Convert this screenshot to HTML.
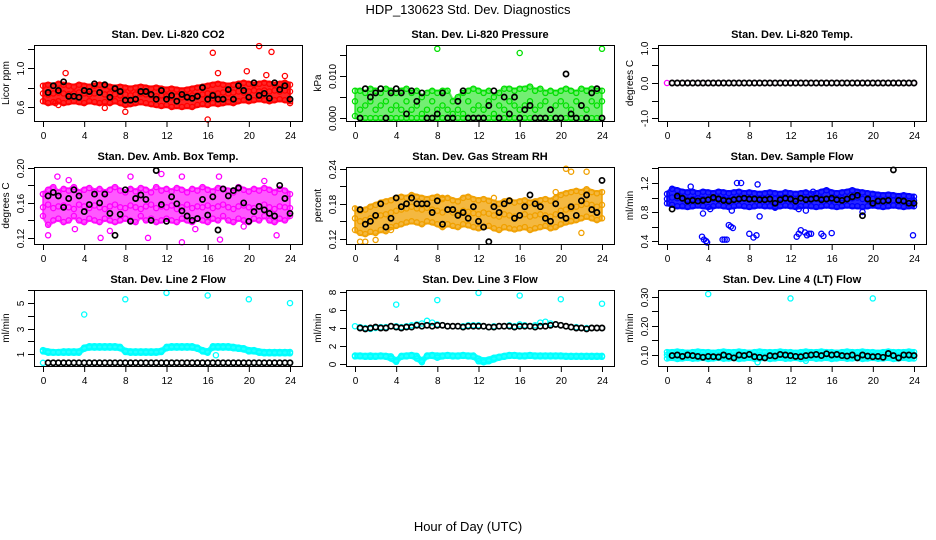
<!DOCTYPE html>
<html><head><meta charset="utf-8"><style>
html,body{margin:0;padding:0;background:#fff;}
svg{display:block;font-family:"Liberation Sans",Arial,sans-serif;}
</style></head><body>
<svg id="chart" width="936" height="540" viewBox="0 0 936 540" xmlns="http://www.w3.org/2000/svg">
<text x="468" y="14" text-anchor="middle" font-size="13">HDP_130623  Std. Dev. Diagnostics</text>
<text x="468" y="531" text-anchor="middle" font-size="13">Hour of Day (UTC)</text>
</svg>
<script>
// ---------- data ----------
const hours = [0,0.5,1,1.5,2,2.5,3,3.5,4,4.5,5,5.5,6,6.5,7,7.5,8,8.5,9,9.5,10,10.5,11,11.5,12,12.5,13,13.5,14,14.5,15,15.5,16,16.5,17,17.5,18,18.5,19,19.5,20,20.5,21,21.5,22,22.5,23,23.5,24];
const blackHours = [0.5,1,1.5,2,2.5,3,3.5,4,4.5,5,5.5,6,6.5,7,7.5,8,8.5,9,9.5,10,10.5,11,11.5,12,12.5,13,13.5,14,14.5,15,15.5,16,16.5,17,17.5,18,18.5,19,19.5,20,20.5,21,21.5,22,22.5,23,23.5,24];

// CO2
const co2Lo  = [0.66,0.64,0.65,0.66,0.64,0.65,0.66,0.65,0.64,0.66,0.65,0.64,0.65,0.64,0.66,0.64,0.62,0.63,0.64,0.65,0.64,0.63,0.62,0.61,0.62,0.60,0.61,0.60,0.61,0.60,0.62,0.63,0.62,0.64,0.63,0.64,0.65,0.64,0.66,0.67,0.66,0.67,0.68,0.67,0.66,0.67,0.68,0.67,0.66];
const co2Mid = [0.74,0.73,0.74,0.75,0.74,0.73,0.74,0.75,0.74,0.73,0.74,0.75,0.73,0.74,0.73,0.72,0.73,0.72,0.73,0.74,0.73,0.72,0.71,0.72,0.71,0.70,0.71,0.70,0.71,0.72,0.72,0.73,0.74,0.73,0.74,0.75,0.74,0.75,0.76,0.75,0.76,0.77,0.76,0.77,0.76,0.77,0.76,0.77,0.76];
const co2Hi  = [0.82,0.83,0.82,0.84,0.83,0.82,0.81,0.83,0.82,0.81,0.82,0.83,0.82,0.81,0.80,0.81,0.80,0.79,0.80,0.81,0.80,0.79,0.80,0.79,0.78,0.79,0.78,0.77,0.78,0.79,0.80,0.81,0.82,0.83,0.84,0.83,0.82,0.83,0.84,0.85,0.84,0.83,0.84,0.85,0.84,0.83,0.84,0.85,0.83];
const co2OutX = [2.2,16.5,17,16,21,22.2,19.8,8,6,1.5,21.7,23.5,1.2,24];
const co2OutY = [0.95,1.16,0.95,0.47,1.23,1.17,0.97,0.55,0.59,0.62,0.93,0.92,0.64,0.64];
const co2Black = [0.75,0.82,0.77,0.86,0.71,0.71,0.70,0.77,0.76,0.84,0.75,0.83,0.70,0.79,0.76,0.67,0.67,0.68,0.76,0.76,0.73,0.68,0.77,0.68,0.72,0.66,0.73,0.70,0.69,0.71,0.80,0.68,0.72,0.68,0.68,0.78,0.68,0.82,0.77,0.70,0.85,0.72,0.74,0.69,0.85,0.78,0.82,0.68];

// Pressure
const presLo  = [0.0005,0,0,0,0,0,0,0,0,0,0,0,0,0,0,0,0,0,0,0,0,0,0,0,0,0,0,0,0,0,0,0,0,0,0,0,0,0,0,0,0,0,0,0,0,0,0,0,0];
const presMid = [0.004,0.002,0.003,0.004,0.002,0.003,0.004,0.002,0.003,0.002,0.004,0.002,0.003,0.001,0.002,0.004,0.002,0.003,0.002,0.001,0.002,0.001,0.004,0.002,0.003,0.002,0.004,0.001,0.003,0.002,0.004,0.003,0.002,0.003,0.004,0.002,0.003,0.004,0.002,0.003,0.004,0.003,0.002,0.004,0.003,0.002,0.004,0.003,0.004];
const presHi  = [0.0065,0.0065,0.006,0.007,0.0065,0.006,0.007,0.0065,0.006,0.0065,0.007,0.006,0.0065,0.005,0.006,0.0065,0.006,0.0065,0.0065,0.004,0.005,0.006,0.0065,0.007,0.0065,0.006,0.0065,0.005,0.006,0.007,0.007,0.0065,0.007,0.007,0.0075,0.0065,0.007,0.006,0.0065,0.006,0.0065,0.007,0.0065,0.006,0.007,0.0065,0.007,0.0065,0.0065];
const presOutX = [8,16,24];
const presOutY = [0.0165,0.0155,0.0165];
const presBlack = [0,0.007,0.005,0.006,0.007,0,0.006,0.007,0.006,0.001,0.0065,0.004,0.006,0,0,0.001,0.006,0,0,0.004,0.0065,0,0,0,0,0.003,0.0065,0,0.005,0.001,0.005,0,0.002,0.003,0,0,0,0.002,0,0,0.0105,0.001,0,0.003,0,0.006,0.007,0];

// Li-820 Temp
const tempVals = [0,0,0,0,0,0,0,0,0,0,0,0,0,0,0,0,0,0,0,0,0,0,0,0,0,0,0,0,0,0,0,0,0,0,0,0,0,0,0,0,0,0,0,0,0,0,0,0,0];
const tempBlack = [0,0,0,0,0,0,0,0,0,0,0,0,0,0,0,0,0,0,0,0,0,0,0,0,0,0,0,0,0,0,0,0,0,0,0,0,0,0,0,0,0,0,0,0,0,0,0,0];

// Amb box temp
const ambLo  = [0.145,0.135,0.14,0.142,0.138,0.14,0.145,0.14,0.138,0.142,0.14,0.138,0.142,0.14,0.138,0.14,0.142,0.14,0.138,0.145,0.14,0.142,0.138,0.14,0.142,0.14,0.138,0.142,0.14,0.138,0.142,0.14,0.138,0.142,0.14,0.145,0.14,0.138,0.142,0.14,0.138,0.142,0.14,0.145,0.14,0.138,0.142,0.14,0.145];
const ambMid = [0.155,0.158,0.154,0.156,0.157,0.155,0.153,0.158,0.156,0.154,0.157,0.155,0.153,0.156,0.158,0.155,0.154,0.157,0.155,0.153,0.156,0.158,0.154,0.156,0.155,0.157,0.153,0.155,0.158,0.154,0.156,0.155,0.157,0.154,0.156,0.158,0.155,0.153,0.156,0.157,0.155,0.154,0.156,0.158,0.155,0.153,0.156,0.155,0.154];
const ambHi  = [0.17,0.175,0.178,0.172,0.176,0.174,0.178,0.172,0.175,0.177,0.173,0.176,0.172,0.175,0.178,0.174,0.172,0.176,0.173,0.177,0.175,0.172,0.178,0.174,0.176,0.173,0.177,0.175,0.172,0.176,0.174,0.178,0.175,0.173,0.177,0.176,0.174,0.172,0.178,0.175,0.173,0.176,0.174,0.177,0.175,0.172,0.176,0.174,0.17];
const ambOutX = [0,0.5,1.4,5.6,8.5,10.2,11.5,13.5,13.5,17.2,17.1,22.7,3.1,14.8,2.5,6.5,19.5,21.5];
const ambOutY = [0.17,0.123,0.19,0.12,0.19,0.12,0.193,0.19,0.115,0.118,0.19,0.123,0.13,0.13,0.186,0.128,0.133,0.185];
const ambBlack = [0.168,0.172,0.168,0.155,0.165,0.175,0.168,0.150,0.158,0.170,0.160,0.170,0.148,0.123,0.147,0.175,0.139,0.165,0.169,0.164,0.140,0.197,0.158,0.139,0.167,0.159,0.151,0.145,0.140,0.142,0.164,0.146,0.167,0.129,0.176,0.168,0.174,0.177,0.160,0.139,0.150,0.156,0.152,0.148,0.145,0.180,0.165,0.148];

// Gas stream RH
const rhLo  = [0.135,0.13,0.128,0.132,0.13,0.135,0.133,0.14,0.142,0.145,0.148,0.15,0.148,0.145,0.15,0.148,0.145,0.14,0.145,0.142,0.14,0.145,0.143,0.14,0.138,0.14,0.142,0.138,0.135,0.14,0.138,0.136,0.138,0.14,0.135,0.138,0.14,0.142,0.138,0.14,0.145,0.148,0.15,0.152,0.155,0.158,0.155,0.152,0.155];
const rhMid = [0.155,0.15,0.152,0.155,0.158,0.16,0.162,0.165,0.168,0.17,0.172,0.175,0.172,0.17,0.173,0.17,0.168,0.165,0.17,0.165,0.163,0.168,0.166,0.164,0.162,0.165,0.163,0.16,0.158,0.162,0.16,0.158,0.16,0.162,0.158,0.16,0.162,0.16,0.158,0.162,0.168,0.17,0.172,0.175,0.178,0.18,0.178,0.175,0.178];
const rhHi  = [0.172,0.168,0.17,0.175,0.178,0.182,0.184,0.186,0.19,0.192,0.19,0.195,0.192,0.19,0.188,0.19,0.192,0.188,0.19,0.186,0.184,0.19,0.192,0.188,0.186,0.188,0.185,0.182,0.18,0.184,0.186,0.182,0.184,0.186,0.182,0.184,0.186,0.188,0.185,0.19,0.195,0.198,0.2,0.202,0.2,0.205,0.2,0.198,0.2];
const rhOutX = [0.5,1,2,20.5,21,22.5,22,19.5,13.5,3.5,8.5];
const rhOutY = [0.115,0.115,0.118,0.24,0.235,0.235,0.13,0.2,0.19,0.135,0.19];
const rhBlack = [0.17,0.145,0.15,0.16,0.18,0.14,0.155,0.19,0.175,0.18,0.19,0.18,0.18,0.18,0.165,0.185,0.145,0.17,0.17,0.16,0.165,0.155,0.175,0.15,0.14,0.115,0.175,0.165,0.18,0.185,0.155,0.16,0.175,0.195,0.18,0.175,0.155,0.15,0.18,0.16,0.155,0.175,0.16,0.185,0.195,0.17,0.165,0.22];

// Sample flow
const flowLo  = [0.92,0.9,0.88,0.88,0.87,0.88,0.89,0.88,0.87,0.88,0.89,0.88,0.87,0.88,0.89,0.88,0.87,0.88,0.89,0.88,0.88,0.87,0.88,0.89,0.88,0.87,0.88,0.89,0.88,0.87,0.88,0.89,0.88,0.87,0.88,0.89,0.88,0.88,0.87,0.88,0.89,0.88,0.87,0.88,0.89,0.88,0.87,0.88,0.88];
const flowMid = [0.98,1.0,0.99,0.98,0.97,0.98,0.99,0.98,0.97,0.98,0.99,0.98,0.97,0.98,0.99,0.98,0.97,0.98,0.99,0.98,0.97,0.98,0.99,0.98,0.97,0.98,0.99,0.98,0.97,0.98,0.99,0.98,0.97,0.98,0.99,0.98,0.99,1.0,0.98,0.97,0.98,0.97,0.96,0.97,0.96,0.97,0.96,0.95,0.96];
const flowHi  = [1.05,1.12,1.1,1.08,1.07,1.08,1.06,1.08,1.07,1.06,1.08,1.07,1.06,1.07,1.08,1.06,1.07,1.06,1.05,1.06,1.07,1.06,1.05,1.07,1.06,1.05,1.06,1.07,1.05,1.06,1.08,1.1,1.07,1.06,1.07,1.08,1.1,1.08,1.07,1.06,1.05,1.04,1.03,1.04,1.03,1.02,1.03,1.02,1.01];
const flowOutX = [3.4,3.6,3.8,3.9,5.4,5.6,5.8,6.0,6.2,6.4,8,8.4,8.7,9,12.6,12.8,13,13.4,13.6,13.8,14,15,15.2,16,23.9,3.5,4.2,6.3,6.8,7.2,8.8,10.5,12.8,13.5,19,2.3,14.2];
const flowOutY = [0.46,0.42,0.4,0.38,0.42,0.42,0.42,0.62,0.6,0.58,0.5,0.45,0.48,0.74,0.46,0.5,0.55,0.52,0.48,0.5,0.5,0.5,0.47,0.51,0.48,0.78,0.84,0.82,1.2,1.2,1.18,0.86,0.84,0.82,0.8,1.15,1.08];
const flowBlack = [0.84,1.02,0.99,0.95,0.96,0.95,0.96,0.97,1.0,0.98,0.96,0.95,0.97,0.98,0.99,0.98,0.98,0.97,0.97,0.98,0.92,0.97,0.99,0.98,0.95,0.99,0.97,0.98,0.99,0.97,0.98,0.99,0.97,0.96,0.98,1.01,1.03,0.75,0.98,0.92,0.95,0.95,0.96,1.38,0.96,0.95,0.92,0.92];

// Line 2 flow
const l2Hi  = [1.3,1.2,1.15,1.15,1.2,1.2,1.2,1.2,1.5,1.6,1.6,1.6,1.6,1.6,1.6,1.55,1.25,1.2,1.2,1.2,1.2,1.2,1.2,1.25,1.55,1.6,1.6,1.6,1.6,1.6,1.5,1.3,1.2,1.6,1.6,1.6,1.6,1.55,1.5,1.45,1.3,1.3,1.2,1.15,1.15,1.15,1.15,1.15,1.15];
const l2Mid = [1.2,1.1,1.1,1.1,1.1,1.1,1.1,1.1,1.4,1.5,1.5,1.5,1.5,1.5,1.5,1.45,1.15,1.1,1.1,1.1,1.1,1.1,1.1,1.15,1.45,1.5,1.5,1.5,1.5,1.5,1.4,1.2,1.1,1.5,1.5,1.5,1.5,1.45,1.4,1.35,1.2,1.2,1.1,1.05,1.05,1.05,1.05,1.05,1.05];
const l2Lo  = [0.3,0.3,0.3,0.3,0.3,0.3,0.3,0.3,0.3,0.3,0.3,0.3,0.3,0.3,0.3,0.3,0.3,0.3,0.3,0.3,0.3,0.3,0.3,0.3,0.3,0.3,0.3,0.3,0.3,0.3,0.3,0.3,0.3,0.3,0.3,0.3,0.3,0.3,0.3,0.3,0.3,0.3,0.3,0.3,0.3,0.3,0.3,0.3,0.3];
const l2OutX = [4,8,12,16,20,24,16.8];
const l2OutY = [4.1,5.3,5.8,5.6,5.3,5.0,0.9];
const l2Black = [0.3,0.3,0.3,0.3,0.3,0.3,0.3,0.3,0.3,0.3,0.3,0.3,0.3,0.3,0.3,0.3,0.3,0.3,0.3,0.3,0.3,0.3,0.3,0.3,0.3,0.3,0.3,0.3,0.3,0.3,0.3,0.3,0.3,0.3,0.3,0.3,0.3,0.3,0.3,0.3,0.3,0.3,0.3,0.3,0.3,0.3,0.3,0.3];

// Line 3 flow
const l3Hi  = [4.2,4.1,4.0,3.9,4.0,4.1,4.1,4.2,4.2,4.1,4.2,4.3,4.4,4.5,4.8,4.6,4.4,4.3,4.2,4.2,4.2,4.2,4.3,4.3,4.3,4.2,4.1,4.2,4.2,4.2,4.3,4.2,4.4,4.3,4.2,4.3,4.6,4.7,4.5,4.4,4.3,4.2,4.1,4.1,4.0,4.0,4.0,4.0,4.0];
const l3Mid = [0.95,0.95,0.9,0.95,0.9,0.95,0.9,0.85,0.4,0.9,0.95,1.0,0.9,0.4,0.95,1.0,0.95,0.95,1.0,0.95,0.95,1.0,0.95,0.95,0.6,0.4,0.5,0.7,0.8,0.9,1.0,1.0,0.95,0.95,1.0,0.95,0.95,0.95,0.95,0.95,0.95,0.9,0.9,0.9,0.9,0.9,0.9,0.9,0.9];
const l3Lo  = [0.85,0.85,0.8,0.8,0.8,0.85,0.8,0.6,0.25,0.8,0.85,0.9,0.6,0.2,0.85,0.9,0.7,0.85,0.9,0.85,0.85,0.9,0.85,0.8,0.3,0.2,0.3,0.5,0.7,0.8,0.9,0.9,0.85,0.85,0.9,0.85,0.85,0.85,0.85,0.85,0.85,0.8,0.8,0.8,0.8,0.8,0.8,0.8,0.8];
const l3OutX = [4,8,12,16,20,24];
const l3OutY = [6.6,7.1,7.9,7.6,7.2,6.7];
const l3Black = [4.0,3.9,4.0,4.1,4.0,4.0,4.2,4.1,4.0,4.1,4.1,4.3,4.2,4.3,4.2,4.3,4.3,4.2,4.2,4.2,4.1,4.2,4.2,4.2,4.2,4.1,4.1,4.2,4.2,4.2,4.1,4.2,4.2,4.2,4.1,4.2,4.2,4.3,4.4,4.3,4.2,4.1,4.0,4.0,3.9,4.0,4.0,4.0];

// Line 4 flow
const l4Hi  = [0.11,0.11,0.112,0.11,0.108,0.11,0.112,0.11,0.11,0.108,0.11,0.112,0.11,0.11,0.112,0.11,0.108,0.11,0.112,0.11,0.11,0.11,0.112,0.11,0.11,0.108,0.11,0.112,0.11,0.11,0.112,0.11,0.11,0.108,0.11,0.112,0.11,0.11,0.112,0.11,0.11,0.108,0.11,0.112,0.11,0.11,0.11,0.112,0.11];
const l4Mid = [0.1,0.098,0.1,0.097,0.1,0.098,0.1,0.097,0.1,0.098,0.1,0.097,0.1,0.098,0.1,0.097,0.1,0.098,0.1,0.097,0.1,0.098,0.1,0.097,0.1,0.098,0.1,0.097,0.1,0.098,0.1,0.097,0.1,0.098,0.1,0.097,0.1,0.098,0.1,0.097,0.1,0.098,0.1,0.097,0.1,0.098,0.1,0.097,0.1];
const l4Lo  = [0.088,0.09,0.086,0.088,0.09,0.087,0.088,0.09,0.086,0.088,0.09,0.087,0.088,0.09,0.086,0.088,0.09,0.087,0.088,0.09,0.086,0.088,0.09,0.087,0.088,0.09,0.086,0.088,0.09,0.087,0.088,0.09,0.086,0.088,0.09,0.087,0.088,0.09,0.086,0.088,0.09,0.087,0.088,0.09,0.086,0.088,0.09,0.087,0.088];
const l4OutX = [4,12,20,8.8,13.5];
const l4OutY = [0.31,0.295,0.295,0.075,0.08];
const l4Black = [0.098,0.1,0.095,0.1,0.098,0.095,0.092,0.095,0.094,0.093,0.1,0.095,0.09,0.1,0.098,0.102,0.094,0.092,0.09,0.098,0.096,0.102,0.1,0.098,0.095,0.094,0.098,0.1,0.102,0.098,0.104,0.1,0.102,0.098,0.096,0.1,0.09,0.1,0.096,0.094,0.095,0.092,0.105,0.098,0.09,0.1,0.1,0.098];

// ---------- drawing ----------
const NS = 'http://www.w3.org/2000/svg';
const svg = document.getElementById('chart');
function mk(tag, attrs, parent) {
  const e = document.createElementNS(NS, tag);
  for (const k in attrs) e.setAttribute(k, attrs[k]);
  (parent || svg).appendChild(e);
  return e;
}
const colLeft = [34, 346, 658];
const rowTop = [45, 167, 290];
const rowBot = [121, 244, 366];
const panels = [
  {key:'co2', title:'Stan. Dev. Li-820 CO2', ylab:'Licor ppm', col:0,row:0, ymin:0.455,ymax:1.241, ticks:[0.6,0.8,1.0,1.2], labels:['0.6','','1.0',''], color:'#ff0000', op:0.85, bands:[co2Lo,co2Mid,co2Hi], fills:[[co2Lo,co2Hi]], outX:co2OutX, outY:co2OutY, black:co2Black},
  {key:'pressure', title:'Stan. Dev. Li-820 Pressure', ylab:'kPa', col:1,row:0, ymin:-0.0007,ymax:0.0174, ticks:[0,0.005,0.010,0.015], labels:['0.000','','0.010',''], color:'#00e000', op:0.55, bands:[presLo,presMid,presHi], fills:[[presLo,presHi]], outX:presOutX, outY:presOutY, black:presBlack},
  {key:'temp', title:'Stan. Dev. Li-820 Temp.', ylab:'degrees C', col:2,row:0, ymin:-1.08,ymax:1.08, ticks:[-1,-0.5,0,0.5,1], labels:['-1.0','','0.0','','1.0'], color:'#ff00ff', op:0.85, bands:[tempVals], fills:[], outX:[], outY:[], black:tempBlack},
  {key:'ambtemp', title:'Stan. Dev. Amb. Box Temp.', ylab:'degrees C', col:0,row:1, ymin:0.113,ymax:0.201, ticks:[0.12,0.14,0.16,0.18,0.20], labels:['0.12','','0.16','','0.20'], color:'#ff00ff', op:0.65, bands:[ambLo,ambMid,ambHi], fills:[[ambLo,ambHi]], outX:ambOutX, outY:ambOutY, black:ambBlack},
  {key:'rh', title:'Stan. Dev. Gas Stream RH', ylab:'percent', col:1,row:1, ymin:0.111,ymax:0.243, ticks:[0.12,0.15,0.18,0.21,0.24], labels:['0.12','','0.18','','0.24'], color:'#f0a000', op:0.75, bands:[rhLo,rhMid,rhHi], fills:[[rhLo,rhHi]], outX:rhOutX, outY:rhOutY, black:rhBlack},
  {key:'sampleflow', title:'Stan. Dev. Sample Flow', ylab:'ml/min', col:2,row:1, ymin:0.36,ymax:1.42, ticks:[0.4,0.6,0.8,1.0,1.2,1.4], labels:['0.4','','0.8','','1.2',''], color:'#0000ff', op:0.85, bands:[flowLo,flowMid,flowHi], fills:[[flowLo,flowHi]], outX:flowOutX, outY:flowOutY, black:flowBlack},
  {key:'line2', title:'Stan. Dev. Line 2 Flow', ylab:'ml/min', col:0,row:2, ymin:0.05,ymax:6.03, ticks:[1,2,3,4,5,6], labels:['1','','3','','5',''], color:'#00ffff', op:0.85, bands:[l2Lo,l2Mid,l2Hi], fills:[[l2Mid,l2Hi]], outX:l2OutX, outY:l2OutY, black:l2Black},
  {key:'line3', title:'Stan. Dev. Line 3 Flow', ylab:'ml/min', col:1,row:2, ymin:-0.22,ymax:8.22, ticks:[0,2,4,6,8], labels:['0','2','4','6','8'], color:'#00ffff', op:0.85, bands:[l3Lo,l3Mid,l3Hi], fills:[[l3Lo,l3Mid]], outX:l3OutX, outY:l3OutY, black:l3Black},
  {key:'line4', title:'Stan. Dev. Line 4 (LT) Flow', ylab:'ml/min', col:2,row:2, ymin:0.062,ymax:0.324, ticks:[0.10,0.15,0.20,0.25,0.30], labels:['0.10','','0.20','','0.30'], color:'#00ffff', op:0.85, bands:[l4Lo,l4Mid,l4Hi], fills:[[l4Lo,l4Hi]], outX:l4OutX, outY:l4OutY, black:l4Black}
];
const xTicks = [0,4,8,12,16,20,24];

panels.forEach(p => {
  const L = colLeft[p.col], T = rowTop[p.row], B = rowBot[p.row], R = L + 268;
  const xs = v => L + 9 + v * (247 / 24);
  const ys = v => B - (v - p.ymin) / (p.ymax - p.ymin) * (B - T);
  const g = mk('g', {});
  
  
  const t = mk('text', {x:(L+R)/2, y:T-7, 'text-anchor':'middle', 'font-size':'11', 'font-weight':'bold'}, g);
  t.textContent = p.title;
  
  
  const yl = mk('text', {x:0, y:0, 'text-anchor':'middle', 'font-size':'10', transform:'translate('+(L-25)+','+((T+B)/2)+') rotate(-90)'}, g);
  yl.textContent = p.ylab;
  
  
  // dense point bands (overplotted region)
  p.fills.forEach(pair => {
    const lo = pair[0], hi = pair[1];
    let d = '';
    hi.forEach((v, i) => { d += (i ? 'L' : 'M') + xs(hours[i]).toFixed(1) + ',' + (ys(v) - 2).toFixed(1); });
    for (let i = lo.length - 1; i >= 0; i--) d += 'L' + xs(hours[i]).toFixed(1) + ',' + (ys(lo[i]) + 2).toFixed(1);
    const band = mk('path', {d: d + 'Z', fill:p.color, 'fill-opacity':String(p.op), stroke:p.color, 'stroke-opacity':String(p.op), 'stroke-width':'2', 'stroke-linejoin':'round'}, g);
    
    
  });
  // points
  const pts = mk('g', {fill:'none', stroke:p.color, 'stroke-width':'1.3'}, g);
  
  
  p.bands.forEach(arr => {
    arr.forEach((v, i) => {
      const c = mk('circle', {cx:xs(hours[i]).toFixed(1), cy:ys(v).toFixed(1), r:'2.6'}, pts);
      
      
    });
  });
  p.outX.forEach((xv, i) => {
    const c = mk('circle', {cx:xs(xv).toFixed(1), cy:ys(p.outY[i]).toFixed(1), r:'2.6'}, pts);
    
    
  });
  const bl = mk('g', {fill:'none', stroke:'#000', 'stroke-width':'1.7'}, g);
  
  
  p.black.forEach((v, i) => {
    const c = mk('circle', {cx:xs(blackHours[i]).toFixed(1), cy:ys(v).toFixed(1), r:'2.6'}, bl);
    
    
  });
  // box
  const box = mk('rect', {x:L+0.5, y:T+0.5, width:268, height:B-T, fill:'none', stroke:'#000', 'stroke-width':'1'}, g);
  
  
  // x axis
  const xa = mk('g', {stroke:'#000', 'stroke-width':'1'}, g);
  
  
  mk('line', {x1:xs(0), x2:xs(24), y1:B+0.5, y2:B+0.5}, xa);
  xTicks.forEach(v => {
    mk('line', {x1:xs(v)+0.5, x2:xs(v)+0.5, y1:B, y2:B+6}, xa);
    const lt = mk('text', {x:xs(v)+0.5, y:B+18, 'text-anchor':'middle', 'font-size':'10', stroke:'none', fill:'#000'}, xa);
    lt.textContent = String(v);
    
    
  });
  // y axis
  const ya = mk('g', {stroke:'#000', 'stroke-width':'1'}, g);
  
  
  mk('line', {x1:L+0.5, x2:L+0.5, y1:ys(p.ticks[0]), y2:ys(p.ticks[p.ticks.length-1])}, ya);
  p.ticks.forEach((v, i) => {
    const y = Math.round(ys(v)) + 0.5;
    mk('line', {x1:L-6, x2:L, y1:y, y2:y}, ya);
    if (p.labels[i]) {
      const lt = mk('text', {x:0, y:0, 'text-anchor':'middle', 'font-size':'10', stroke:'none', fill:'#000', transform:'translate('+(L-10)+','+y+') rotate(-90)'}, ya);
      lt.textContent = p.labels[i];
      
      
    }
  });
});
</script>
</body></html>
